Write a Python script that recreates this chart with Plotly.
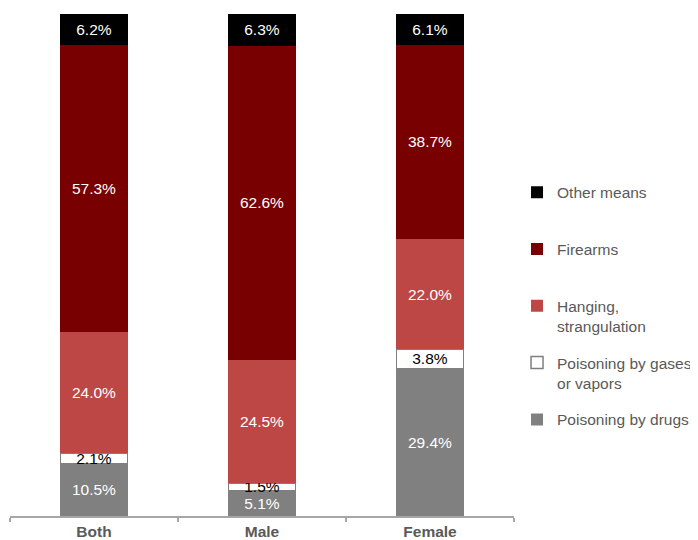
import plotly.graph_objects as go

categories = ["Both", "Male", "Female"]
series_names = ["Poisoning by drugs", "Poisoning by gases<br>or vapors", "Hanging,<br>strangulation", "Firearms", "Other means"]
drugs = [10.5, 5.1, 29.4]
gases = [2.1, 1.5, 3.8]
hanging = [24.0, 24.5, 22.0]
firearms = [57.3, 62.6, 38.7]
other = [6.2, 6.3, 6.1]
series_values = [drugs, gases, hanging, firearms, other]

colors = ["#808080", "#FFFFFF", "#BC4744", "#780000", "#000000"]
line_colors = ["#808080", "#7F7F7F", "#BC4744", "#780000", "#000000"]
line_widths = [0, 1.5, 0, 0, 0]
text_colors = ["#FFFFFF", "#000000", "#FFFFFF", "#FFFFFF", "#FFFFFF"]

FONT = "Liberation Sans, Arial, sans-serif"

fig = go.Figure()
n = len(series_names)
for i, (name, vals) in enumerate(zip(series_names, series_values)):
    label = name if "<br>" in name else name + "<br>&nbsp;"
    fig.add_trace(go.Bar(
        x=categories, y=vals, name=label, legendgroup=str(i),
        legendrank=n - i,
        marker=dict(color=colors[i], line=dict(color=line_colors[i], width=line_widths[i])),
        texttemplate="%{y:.1f}%", textposition="inside", insidetextanchor="middle",
        textangle=0, constraintext="none",
        textfont=dict(family=FONT, size=15.5, color=text_colors[i]),
        hoverinfo="skip",
    ))

# page body has an 8px margin, so the figure is sized/offset to compensate
fig.update_layout(
    width=690, height=532,
    barmode="stack", bargap=0.6,
    margin=dict(l=2, r=184, t=6, b=24, autoexpand=False),
    plot_bgcolor="white", paper_bgcolor="white",
    font=dict(family=FONT, size=15.5, color="#595959"),
    uniformtext=dict(minsize=15.5, mode="show"),
    showlegend=True,
    legend=dict(
        x=1.006, xanchor="left", y=0.678, yanchor="top",
        traceorder="grouped", tracegroupgap=13.5,
        valign="top", font=dict(family=FONT, size=15.5, color="#595959"),
        bgcolor="rgba(0,0,0,0)", borderwidth=0,
    ),
    xaxis=dict(
        type="category", showline=True, linecolor="#A6A6A6", linewidth=1.5,
        ticks="outside", ticklen=4, tickcolor="#A6A6A6", tickwidth=1.5,
        tickson="boundaries", showgrid=False, automargin=False,
        ticklabelstandoff=1,
        tickfont=dict(family=FONT, size=15.5, color="#595959", weight="bold"),
    ),
    yaxis=dict(range=[0, 100], visible=False, showgrid=False, zeroline=False, automargin=False),
)

fig.write_html("out.html")
